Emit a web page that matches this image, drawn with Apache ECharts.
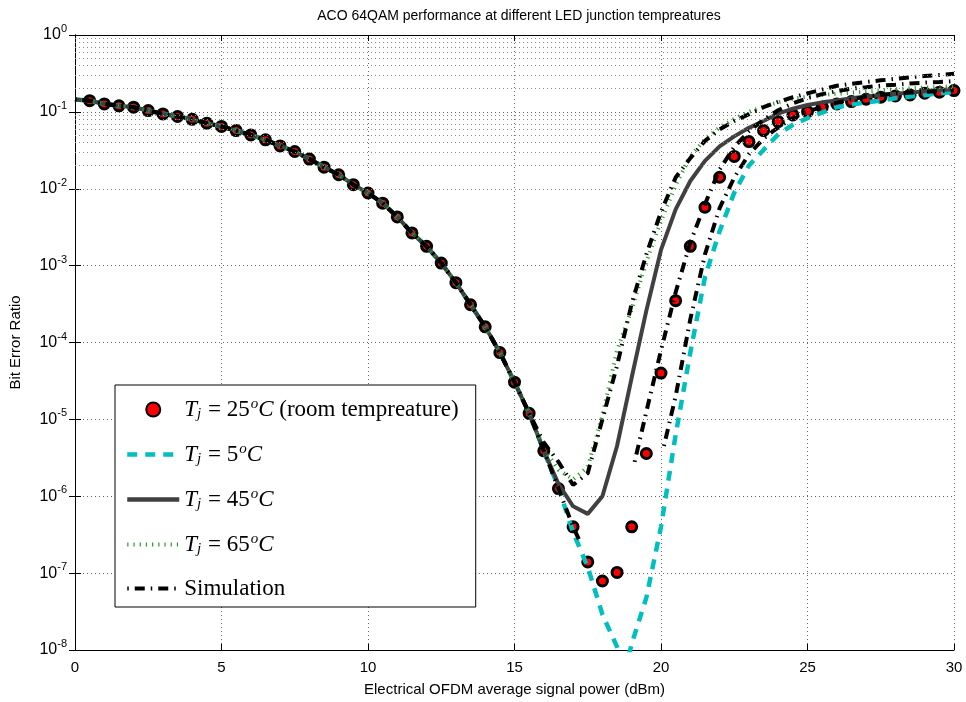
<!DOCTYPE html>
<html><head><meta charset="utf-8">
<script src="https://cdn.jsdelivr.net/npm/echarts@6/dist/echarts.min.js"></script>
<style>html,body{margin:0;padding:0;background:#fff}#c{width:966px;height:702px}</style>
</head><body><div id="c"></div>
<script>
// x grid (dBm) used by the measured line series
const powerGrid = [0,0.5,1,1.5,2,2.5,3,3.5,4,4.5,5,5.5,6,6.5,7,7.5,8,8.5,9,9.5,10,10.5,11,11.5,12,12.5,13,13.5,14,14.5,15,15.5,16,16.5,17,17.5,18,18.5,19,19.5,20,20.5,21,21.5,22,22.5,23,23.5,24,24.5,25,25.5,26,26.5,27,27.5,28,28.5,29,29.5,30];
// Tj = 25 C markers
const markerPower = [0.5,1,1.5,2,2.5,3,3.5,4,4.5,5,5.5,6,6.5,7,7.5,8,8.5,9,9.5,10,10.5,11,11.5,12,12.5,13,13.5,14,14.5,15,15.5,16,16.5,17,17.5,18,18.5,19,19.5,20,20.5,21,21.5,22,22.5,23,23.5,24,24.5,25,25.5,26,26.5,27,27.5,28,28.5,29,29.5,30];
const ber25 = [0.140,0.127,0.120,0.115,0.104,0.094,0.087,0.080,0.0713,0.0646,0.0571,0.0501,0.0433,0.0361,0.0305,0.0243,0.0191,0.0152,0.0113,0.0088,0.0065,0.0043,0.00266,0.00178,0.00108,6.0e-4,3.1e-4,1.6e-4,7.4e-5,3.05e-5,1.2e-5,3.9e-6,1.26e-6,4.0e-7,1.4e-7,7.9e-8,1.02e-7,4.0e-7,3.6e-6,4.0e-5,3.5e-4,1.78e-3,5.75e-3,0.0141,0.0263,0.0411,0.0571,0.0748,0.0914,0.101,0.115,0.127,0.136,0.146,0.155,0.161,0.166,0.175,0.180,0.189];
// Tj = 5 C
const power5 = [0,0.5,1,1.5,2,2.5,3,3.5,4,4.5,5,5.5,6,6.5,7,7.5,8,8.5,9,9.5,10,10.5,11,11.5,12,12.5,13,13.5,14,14.5,15,15.5,16,16.5,17,17.5,18,18.5,18.75,19,19.5,20,20.5,21,21.5,22,22.5,23,23.5,24,24.5,25,25.5,26,26.5,27,27.5,28,28.5,29,29.5,30];
const ber5 = [0.145,0.140,0.127,0.120,0.115,0.104,0.094,0.087,0.080,0.0713,0.0646,0.0571,0.0501,0.0433,0.0361,0.0305,0.0243,0.0191,0.0152,0.0113,0.0088,0.0065,0.0043,0.00266,0.00178,0.00108,6.0e-4,3.1e-4,1.6e-4,7.4e-5,3.05e-5,1.2e-5,3.9e-6,1.3e-6,3.4e-7,1.2e-7,2.9e-8,1.1e-8,5e-9,1.2e-8,4.8e-8,4.0e-7,6.3e-6,7.4e-5,7.1e-4,2.8e-3,8.9e-3,0.020,0.032,0.051,0.068,0.083,0.098,0.115,0.124,0.133,0.140,0.150,0.158,0.165,0.174,0.182];
// Tj = 45 C
const ber45 = [0.145,0.140,0.127,0.120,0.115,0.104,0.094,0.087,0.080,0.0713,0.0646,0.0571,0.0501,0.0433,0.0361,0.0305,0.0243,0.0191,0.0152,0.0113,0.0088,0.0065,0.0043,0.00266,0.00178,0.00108,6.0e-4,3.1e-4,1.6e-4,7.4e-5,3.05e-5,1.2e-5,3.9e-6,1.45e-6,7.4e-7,5.9e-7,1.0e-6,4.5e-6,3.5e-5,2.6e-4,1.6e-3,5.4e-3,0.0126,0.023,0.0355,0.048,0.062,0.076,0.095,0.110,0.123,0.133,0.141,0.151,0.158,0.165,0.172,0.178,0.186,0.192,0.197];
// Tj = 65 C
const ber65 = [0.145,0.140,0.127,0.120,0.115,0.104,0.094,0.087,0.080,0.0713,0.0646,0.0571,0.0501,0.0433,0.0361,0.0305,0.0243,0.0191,0.0152,0.0113,0.0088,0.0065,0.0043,0.00266,0.00178,0.00108,6.0e-4,3.1e-4,1.6e-4,7.4e-5,3.05e-5,1.2e-5,4.2e-6,2.2e-6,1.66e-6,2.4e-6,1.12e-5,7.9e-5,2.7e-4,1.12e-3,3.8e-3,0.0112,0.026,0.044,0.063,0.081,0.100,0.117,0.133,0.148,0.158,0.166,0.172,0.178,0.183,0.190,0.197,0.202,0.207,0.211,0.214];
// Simulation curves
const simAPower = powerGrid;
const simA = [0.145,0.140,0.127,0.120,0.115,0.104,0.094,0.087,0.080,0.0713,0.0646,0.0571,0.0501,0.0433,0.0361,0.0305,0.0243,0.0191,0.0152,0.0113,0.0088,0.0065,0.0043,0.00266,0.00178,0.00108,6.0e-4,3.1e-4,1.6e-4,7.4e-5,3.05e-5,1.2e-5,5.0e-6,2.8e-6,1.4e-6,2.0e-6,1.0e-5,5.0e-5,3.2e-4,1.4e-3,5.0e-3,0.014,0.025,0.042,0.059,0.076,0.093,0.115,0.135,0.155,0.174,0.195,0.219,0.232,0.245,0.257,0.269,0.282,0.292,0.302,0.313];
const simBLowPower = [0,0.5,1,1.5,2,2.5,3,3.5,4,4.5,5,5.5,6,6.5,7,7.5,8,8.5,9,9.5,10,10.5,11,11.5,12,12.5,13,13.5,14,14.5,15,15.5,16,16.5,17,17.25];
const simBLow = [0.145,0.140,0.127,0.120,0.115,0.104,0.094,0.087,0.080,0.0713,0.0646,0.0571,0.0501,0.0433,0.0361,0.0305,0.0243,0.0191,0.0152,0.0113,0.0088,0.0065,0.0043,0.00266,0.00178,0.00108,6.0e-4,3.1e-4,1.6e-4,7.4e-5,3.05e-5,1.2e-5,3.9e-6,1.26e-6,4.0e-7,2.5e-7];
const simBHighPower = [19.1,19.5,20,20.5,21,21.5,22,22.5,23,23.5,24,24.5,25,25.5,26,26.5,27,27.5,28,28.5,29,29.5,30];
const simBHigh = [2.8e-6,1.26e-5,7.9e-5,4.5e-4,2.0e-3,6.3e-3,0.0178,0.035,0.056,0.079,0.105,0.129,0.151,0.170,0.186,0.200,0.209,0.219,0.226,0.234,0.240,0.245,0.251];
const simCPower = [20.1,20.5,21,21.5,22,22.5,23,23.5,24,24.5,25,25.5,26,26.5,27,27.5,28,28.5,29,29.5,30];
const simC = [4.5e-6,2.0e-5,2.0e-4,1.4e-3,5.6e-3,0.014,0.028,0.045,0.063,0.083,0.102,0.115,0.132,0.145,0.158,0.166,0.174,0.178,0.182,0.186,0.190];
// axis ticks
const xTicks = [0,5,10,15,20,25,30];
const yDecades = [-8,-7,-6,-5,-4,-3,-2,-1,0];

const pairs = (xs, ys) => xs.map((x, i) => [x, ys[i]]);
const minorVals = [];
yDecades.slice(0, -1).forEach(k => { for (let m = 2; m <= 9; m++) minorVals.push(m * Math.pow(10, k)); });

const serif = 'Liberation Serif';
const legendRich = {
  i: {fontFamily: serif, fontStyle: 'italic', fontSize: 23, lineHeight: 26, color: '#000'},
  n: {fontFamily: serif, fontSize: 23, lineHeight: 26, color: '#000'},
  sb: {fontFamily: serif, fontStyle: 'italic', fontSize: 15, lineHeight: 16, color: '#000', padding: [10, 1, 0, 0]},
  sp: {fontFamily: serif, fontStyle: 'italic', fontSize: 15, lineHeight: 16, color: '#000', padding: [0, 0, 10, 1]}
};
const legendText = {
  r25: '{i|T}{sb|j}{n| = 25}{sp|o}{i|C}{n| (room tempreature)}',
  c5: '{i|T}{sb|j}{n| = 5}{sp|o}{i|C}',
  g45: '{i|T}{sb|j}{n| = 45}{sp|o}{i|C}',
  g65: '{i|T}{sb|j}{n| = 65}{sp|o}{i|C}',
  sim: '{n|Simulation}'
};

const simStyle = {color: '#000', width: 4, type: [1.5, 6, 10, 6]};
const greenStyle = {color: '#2a9a2a', width: 4, type: [1.2, 5]};
const chart = echarts.init(document.getElementById('c'), null, {renderer: 'canvas'});
const sans = 'Liberation Sans';
const noSym = {opacity: 0};
chart.setOption({
  animation: false,
  backgroundColor: '#fff',
  title: {
    text: 'ACO 64QAM performance at different LED junction tempreatures',
    left: 514, top: 4, textAlign: 'center',
    textStyle: {fontFamily: sans, fontSize: 14, fontWeight: 'normal', color: '#000'}
  },
  grid: {left: 74, right: 12, top: 35, bottom: 51, containLabel: false},
  xAxis: [{
    type: 'value', min: 0, max: 30, interval: 5,
    name: 'Electrical OFDM average signal power (dBm)', nameLocation: 'middle', nameGap: 32,
    nameTextStyle: {fontFamily: sans, fontSize: 15, color: '#000'},
    axisLine: {lineStyle: {color: '#000', width: 1}},
    axisTick: {inside: true, length: 6, lineStyle: {color: '#000'}},
    axisLabel: {fontFamily: sans, fontSize: 15, color: '#000', margin: 10},
    splitLine: {show: true, lineStyle: {color: '#666', width: 1, type: [1, 3]}}
  }, {
    type: 'value', min: 0, max: 30, interval: 5, position: 'top',
    axisLine: {show: true, lineStyle: {color: '#000', width: 1}},
    axisTick: {inside: true, length: 6, lineStyle: {color: '#000'}},
    axisLabel: {show: false}, splitLine: {show: false}
  }],
  yAxis: [{
    type: 'log', logBase: 10, min: 1e-8, max: 1, interval: 1,
    name: 'Bit Error Ratio', nameLocation: 'middle', nameGap: 52,
    nameTextStyle: {fontFamily: sans, fontSize: 15, color: '#000'},
    axisLine: {show: true, lineStyle: {color: '#000', width: 1}},
    axisTick: {inside: true, length: 6, lineStyle: {color: '#000'}},
    axisLabel: {
      margin: 8, color: '#000',
      formatter: v => '{b|10}{s|' + Math.round(Math.log10(v)) + '}',
      rich: {
        b: {fontFamily: sans, fontSize: 16, color: '#000'},
        s: {fontFamily: sans, fontSize: 11, color: '#000', padding: [0, 0, 12, 0]}
      }
    },
    splitLine: {show: true, lineStyle: {color: '#666', width: 1, type: [1, 3]}}
  }, {
    type: 'log', logBase: 10, min: 1e-8, max: 1, interval: 1, position: 'right',
    axisLine: {show: true, lineStyle: {color: '#000', width: 1}},
    axisTick: {inside: true, length: 6, lineStyle: {color: '#000'}},
    axisLabel: {show: false}, splitLine: {show: false}
  }],
  legend: {
    orient: 'vertical', left: 115, top: 385,
    data: [
      {name: 'r25'},
      {name: 'c5', itemStyle: noSym, lineStyle: {width: 4.5}},
      {name: 'g45', itemStyle: noSym, lineStyle: {width: 4.5}},
      {name: 'g65', itemStyle: noSym, lineStyle: {width: 4}},
      {name: 'sim', itemStyle: noSym, lineStyle: {width: 4}}
    ],
    formatter: n => legendText[n],
    textStyle: {rich: legendRich, fontFamily: serif, fontSize: 23, color: '#000'},
    itemWidth: 52, itemHeight: 14, itemGap: 20,
    padding: [12, 17, 7, 10],
    borderColor: '#000', borderWidth: 1, backgroundColor: '#fff',
    selectedMode: false
  },
  series: [
    {
      type: 'line', name: 'grid', data: [], silent: true, z: 1,
      markLine: {
        silent: true, symbol: 'none', label: {show: false}, animation: false,
        lineStyle: {color: '#888', width: 1, type: [1, 3]},
        data: minorVals.map(v => ({yAxis: v}))
      }
    },
    {
      type: 'scatter', name: 'r25', data: pairs(markerPower, ber25),
      symbol: 'circle', symbolSize: 10,
      itemStyle: {color: '#ff0000', borderColor: '#000', borderWidth: 3, opacity: 1}
    },
    {
      type: 'line', name: 'c5', data: pairs(power5, ber5), symbol: 'none',
      lineStyle: {color: '#00bfbf', width: 4.5, type: [10, 8]}, itemStyle: {color: '#00bfbf'}
    },
    {
      type: 'line', name: 'g45', data: pairs(powerGrid, ber45), symbol: 'none',
      lineStyle: {color: '#404040', width: 4}, itemStyle: {color: '#404040'}
    },
    {
      type: 'line', name: 'g65', data: pairs(powerGrid, ber65), symbol: 'none',
      lineStyle: greenStyle, itemStyle: {color: '#2a9a2a'}
    },
    {type: 'line', name: 'sim', data: pairs(simAPower, simA), symbol: 'none', lineStyle: simStyle, itemStyle: {color: '#000'}},
    {type: 'line', name: 'sim', data: pairs(simBLowPower, simBLow), symbol: 'none', lineStyle: simStyle, itemStyle: {color: '#000'}},
    {type: 'line', name: 'sim', data: pairs(simBHighPower, simBHigh), symbol: 'none', lineStyle: simStyle, itemStyle: {color: '#000'}},
    {type: 'line', name: 'sim', data: pairs(simCPower, simC), symbol: 'none', lineStyle: simStyle, itemStyle: {color: '#000'}}
  ]
});
</script></body></html>
